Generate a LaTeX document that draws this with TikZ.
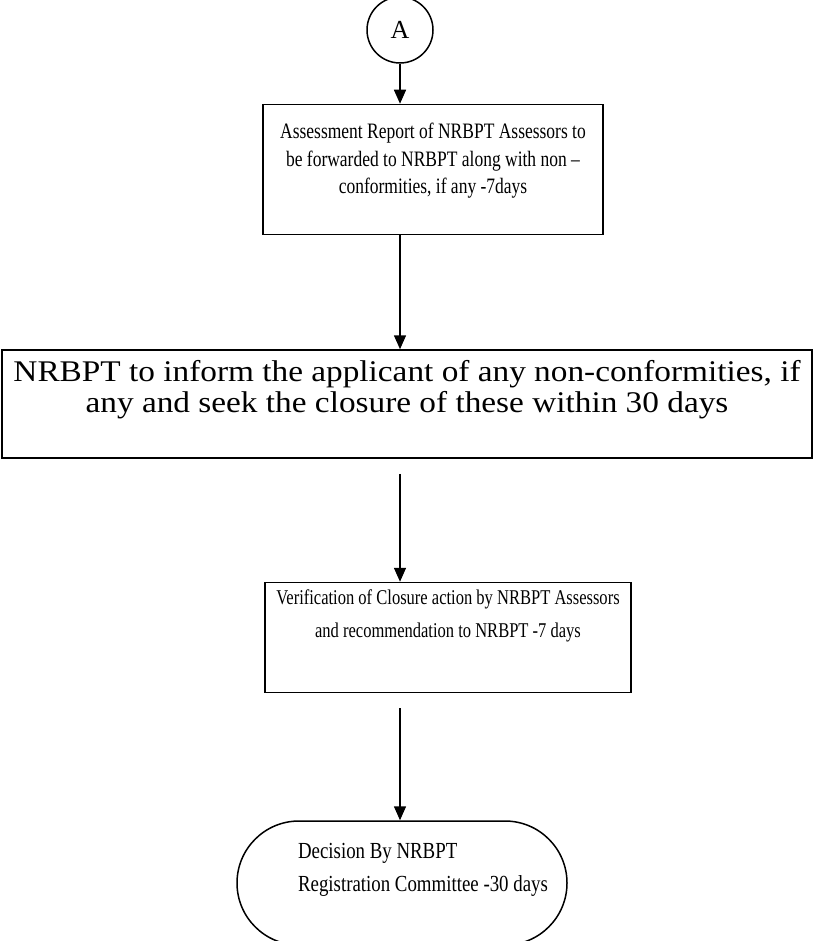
\documentclass[tikz,border=0pt]{standalone}
\usepackage{fontspec}
\setmainfont{Liberation Serif}
\newfontfamily\reportfont[FakeStretch=0.795]{Liberation Serif}
\newfontfamily\informfont[FakeStretch=1.11]{Liberation Serif}
\newfontfamily\verifyfont[FakeStretch=0.787]{Liberation Serif}
\newfontfamily\decidefont[FakeStretch=0.82]{Liberation Serif}
\usetikzlibrary{arrows.meta,positioning}
\tikzset{
  flowbox/.style={
    draw=black, line width=0.75pt, align=center, inner sep=0pt
  },
  endbox/.style={flowbox, rounded corners=31pt, align=left},
  conn/.style={
    circle, draw=black, line width=0.75pt, minimum size=33pt,
    inner sep=0pt, font=\fontsize{13}{15.5}\selectfont
  },
  arr/.style={-{Triangle[length=7pt,width=6pt]}, draw=black, line width=0.75pt}
}
\begin{document}
\begin{tikzpicture}[x=0.5pt, y=-0.5pt]
  \useasboundingbox (0,0) rectangle (818,941);
  \node[conn] (conA) at (400,30) {A};
  \node[flowbox, below=20pt of conA, xshift=16.5pt,
    minimum width=170pt, minimum height=65pt, text depth=11pt,
    font=\reportfont\fontsize{11}{13.75}\selectfont] (report)
    {Assessment Report of NRBPT Assessors to\\be forwarded to NRBPT along with non –\\conformities, if any -7days};
  \node[flowbox, below=57pt of report, xshift=-13pt,
    minimum width=405pt, minimum height=54pt, text depth=18pt,
    font=\informfont\fontsize{15}{15.5}\selectfont] (inform)
    {NRBPT to inform the applicant of any non-conformities, if\\any and seek the closure of these within 30 days};
  \node[flowbox, below=61.5pt of inform, xshift=20.5pt,
    minimum width=183pt, minimum height=55pt, text depth=24pt,
    font=\verifyfont\fontsize{10.5}{16.5}\selectfont] (verify)
    {Verification of Closure action by NRBPT Assessors\\and recommendation to NRBPT -7 days};
  \node[endbox, below=63.5pt of verify, xshift=-23pt,
    minimum width=165pt, minimum height=62pt, text depth=16pt,
    font=\decidefont\fontsize{11.5}{16.5}\selectfont] (decide)
    {\hspace*{21pt}Decision By NRBPT\\\hspace*{21pt}Registration Committee -30 days};
  \draw[arr] (conA) -- (conA |- report.north);
  \draw[arr] (report.south -| conA) -- (inform.north -| conA);
  \draw[arr, shorten <=7.5pt] (inform.south -| conA) -- (verify.north -| conA);
  \draw[arr, shorten <=7.5pt] (verify.south -| conA) -- (decide.north -| conA);
\end{tikzpicture}
\end{document}
